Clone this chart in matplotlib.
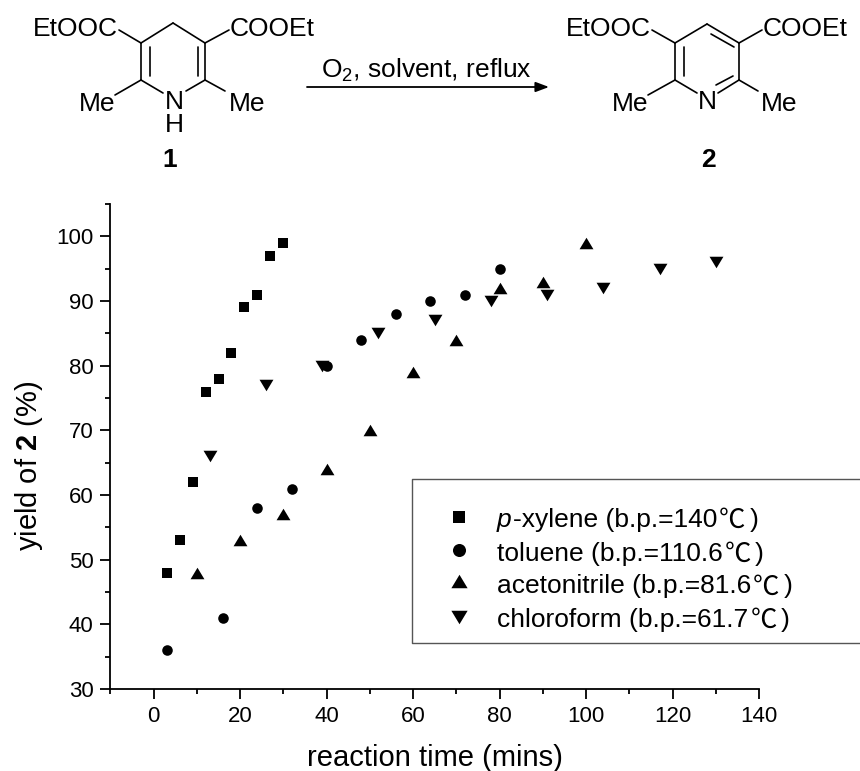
import matplotlib
matplotlib.use('Agg')
from matplotlib import pyplot as plt

plt.rcParams['font.family'] = ['Liberation Sans', 'Noto Sans CJK SC']
plt.rcParams['mathtext.fontset'] = 'custom'
plt.rcParams['mathtext.rm'] = 'Liberation Sans'
plt.rcParams['mathtext.it'] = 'Liberation Sans:italic'
plt.rcParams['mathtext.bf'] = 'Liberation Sans:bold'

W, H = 860, 771

xylene_t = [3, 6, 9, 12, 15, 18, 21, 24, 27, 30]
xylene_y = [48, 53, 62, 76, 78, 82, 89, 91, 97, 99]
toluene_t = [3, 16, 24, 32, 40, 48, 56, 64, 72, 80]
toluene_y = [36, 41, 58, 61, 80, 84, 88, 90, 91, 95]
acn_t = [10, 20, 30, 40, 50, 60, 70, 80, 90, 100]
acn_y = [48, 53, 57, 64, 70, 79, 84, 92, 93, 99]
chcl3_t = [13, 26, 39, 52, 65, 78, 91, 104, 117, 130]
chcl3_y = [66, 77, 80, 85, 87, 90, 91, 92, 95, 96]

legend_labels = ['p|-xylene (b.p.=140|℃|)',
                 '|toluene (b.p.=110.6|℃|)',
                 '|acetonitrile (b.p.=81.6|℃|)',
                 '|chloroform (b.p.=61.7|℃|)']

# flatter triangles than the stock ^ and v markers
up = [(-1, -0.83), (1, -0.83), (0, 0.83)]
down = [(-1, 0.83), (1, 0.83), (0, -0.83)]

fig = plt.figure(figsize=(W / 100, H / 100), dpi=100)
ax = fig.add_axes([110.4 / W, 1 - 689 / H, (759 - 110.4) / W, (689 - 204) / H])

ax.plot(xylene_t, xylene_y, 's', color='k', ms=6.8, mew=0, clip_on=False)
ax.plot(toluene_t, toluene_y, 'o', color='k', ms=7.6, mew=0, clip_on=False)
ax.plot(acn_t, acn_y, marker=up, ls='', color='k', ms=10, mew=0, clip_on=False)
ax.plot(chcl3_t, chcl3_y, marker=down, ls='', color='k', ms=10, mew=0, clip_on=False)

ax.set_xlim(-10, 140)
ax.set_ylim(30, 105)
ax.set_xticks(range(0, 141, 20))
ax.set_xticks(range(-10, 141, 20), minor=True)
ax.set_yticks(range(30, 101, 10))
ax.set_yticks(range(35, 106, 10), minor=True)
ax.spines['top'].set_visible(False)
ax.spines['right'].set_visible(False)
ax.spines['left'].set_linewidth(1.3)
ax.spines['bottom'].set_linewidth(1.3)
ax.tick_params(which='major', length=7.2, width=1.3, labelsize=16, pad=5)
ax.tick_params(which='minor', length=3.6, width=1.3)
ax.set_xlabel('reaction time (mins)', fontsize=21, labelpad=12)
ax.set_ylabel(r'yield of $\mathbf{2}$ (%)', fontsize=21, labelpad=8, y=0.46)

# overlay in pixel coordinates for the scheme and the legend box
ov = fig.add_axes([0, 0, 1, 1])
ov.set_xlim(0, W)
ov.set_ylim(H, 0)
ov.axis('off')
ov.patch.set_alpha(0)


def bond(x0, y0, x1, y1):
    ov.plot([x0, x1], [y0, y1], color='k', lw=1.2, solid_capstyle='round')


def label(x, y, s, size=19, **kw):
    ov.text(x, y + 2, s, fontsize=size, ha='center', va='center', **kw)


# left structure
for b in [(119, 30, 141, 43), (141, 43, 173, 23), (173, 23, 205, 43), (205, 43, 229, 30),
          (141, 43, 141, 80), (150, 47, 150, 76), (205, 43, 205, 80), (198, 47, 198, 76),
          (141, 80, 115, 95), (205, 80, 225, 91), (141, 80, 163, 93), (205, 80, 186, 91)]:
    bond(*b)
label(75, 27, 'EtOOC')
label(272, 27, 'COOEt')
label(97, 102, 'Me')
label(247, 102, 'Me')
label(174, 100, 'N')
label(174, 123, 'H')
label(170, 158, '1', weight='bold')

# right structure
for b in [(652, 30, 675, 43), (675, 43, 707, 24), (707, 24, 739, 43), (711, 34, 734, 47), (739, 43, 762, 30),
          (675, 43, 675, 80), (684, 47, 684, 76), (739, 43, 739, 80),
          (675, 80, 648, 95), (739, 80, 758, 91), (675, 80, 697, 93), (739, 80, 718, 93), (733, 76, 716, 85)]:
    bond(*b)
label(608, 27, 'EtOOC')
label(805, 27, 'COOEt')
label(630, 102, 'Me')
label(779, 102, 'Me')
label(707, 100, 'N')
label(708, 158, '2', weight='bold')

# arrow
ov.annotate('', xy=(549, 87), xytext=(307, 87),
            arrowprops=dict(arrowstyle='-|>,head_length=0.8,head_width=0.3', color='k', lw=1.3,
                            shrinkA=0, shrinkB=0))
ov.text(426, 70, r'O$_2$, solvent, reflux', fontsize=19, ha='center', va='center')

# legend box, open on the right
ov.plot([860, 412, 412, 860], [479, 479, 643, 643], color='#555555', lw=1.0)
leg_y = [517, 550, 581, 617]
text_y = [517, 551, 584, 617]
ov.plot([459], [leg_y[0]], 's', color='k', ms=8, mew=0)
ov.plot([459], [leg_y[1]], 'o', color='k', ms=9.4, mew=0)
ov.plot([459], [leg_y[2]], marker=up, ls='', color='k', ms=11.7, mew=0)
ov.plot([459], [leg_y[3]], marker=down, ls='', color='k', ms=11.7, mew=0)

# legend text is pieced together so p is italic and the degree sign is the wide CJK one
renderer = fig.canvas.get_renderer()
for y, s in zip(text_y, legend_labels):
    ital, body, deg, close = s.split('|')
    x = 497
    for part, kw, gap in [(ital, dict(style='italic'), 1), (body, {}, 2),
                          (deg, dict(family='Noto Sans CJK SC'), 4), (close, {}, 0)]:
        if part == '':
            continue
        t = ov.text(x, y, part, fontsize=19, ha='left', va='center_baseline', **kw)
        x = ov.transData.inverted().transform(t.get_window_extent(renderer))[1, 0] + gap

fig.savefig('out.png', dpi=100)
